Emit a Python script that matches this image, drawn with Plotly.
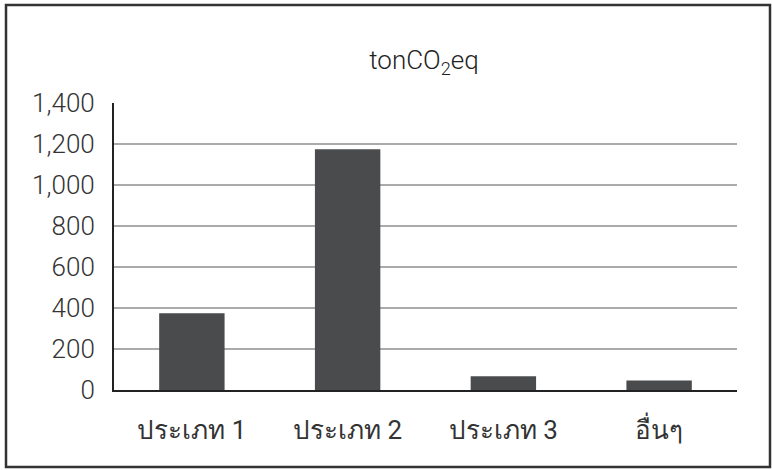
import plotly.graph_objects as go

categories = ["ประเภท 1", "ประเภท 2", "ประเภท 3", "อื่นๆ"]
values = [375, 1175, 67, 46]
y_ticks = [0, 200, 400, 600, 800, 1000, 1200, 1400]
y_tick_labels = ["0", "200", "400", "600", "800", "1,000", "1,200", "1,400"]

L, R, T, B = 114, 35, 103, 80
W, H = 772, 470
pw, ph = W - L - R, H - T - B

FONT = "Roboto, Liberation Sans, Noto Sans, sans-serif"

fig = go.Figure(go.Bar(x=categories, y=values, marker=dict(color="#4a4b4d", line=dict(width=0)), width=0.42))

fig.update_layout(
    width=W, height=H,
    margin=dict(l=L, r=R, t=T, b=B),
    paper_bgcolor="white", plot_bgcolor="white",
    font=dict(family=FONT, color="#333333", weight=300),
    title=dict(text="tonCO<sub>2</sub>eq", x=(424 - L) / pw, xref="paper", xanchor="center",
               y=1 - 60 / H, yanchor="middle",
               font=dict(size=26, color="#222222", family=FONT, weight=300)),
    showlegend=False,
    bargap=0.58,
)
fig.update_yaxes(range=[0, 1400], tickvals=y_ticks, ticktext=y_tick_labels,
                 showgrid=True, gridcolor="#aaaaaa", gridwidth=2,
                 showline=True, linecolor="#222222", linewidth=2,
                 ticks="", tickfont=dict(size=26, color="#333333", family=FONT, weight=300),
                 ticklabelstandoff=12, zeroline=False, fixedrange=True)
fig.update_xaxes(showline=True, linecolor="#222222", linewidth=2, ticks="",
                 tickfont=dict(size=26, color="#333333", family=FONT, weight="normal"),
                 ticklabelstandoff=16, fixedrange=True)

x0 = (6 - L) / pw
x1 = (770 - L) / pw
y1 = (H - B - 5) / ph
y0 = (H - B - 467) / ph
fig.add_shape(type="rect", xref="paper", yref="paper", x0=x0, x1=x1, y0=y0, y1=y1,
              line=dict(color="#333333", width=2.5), layer="below")

fig.write_html("out.html", config={"displayModeBar": False},
               post_script="document.body.style.margin='0';document.body.style.overflow='hidden';")
